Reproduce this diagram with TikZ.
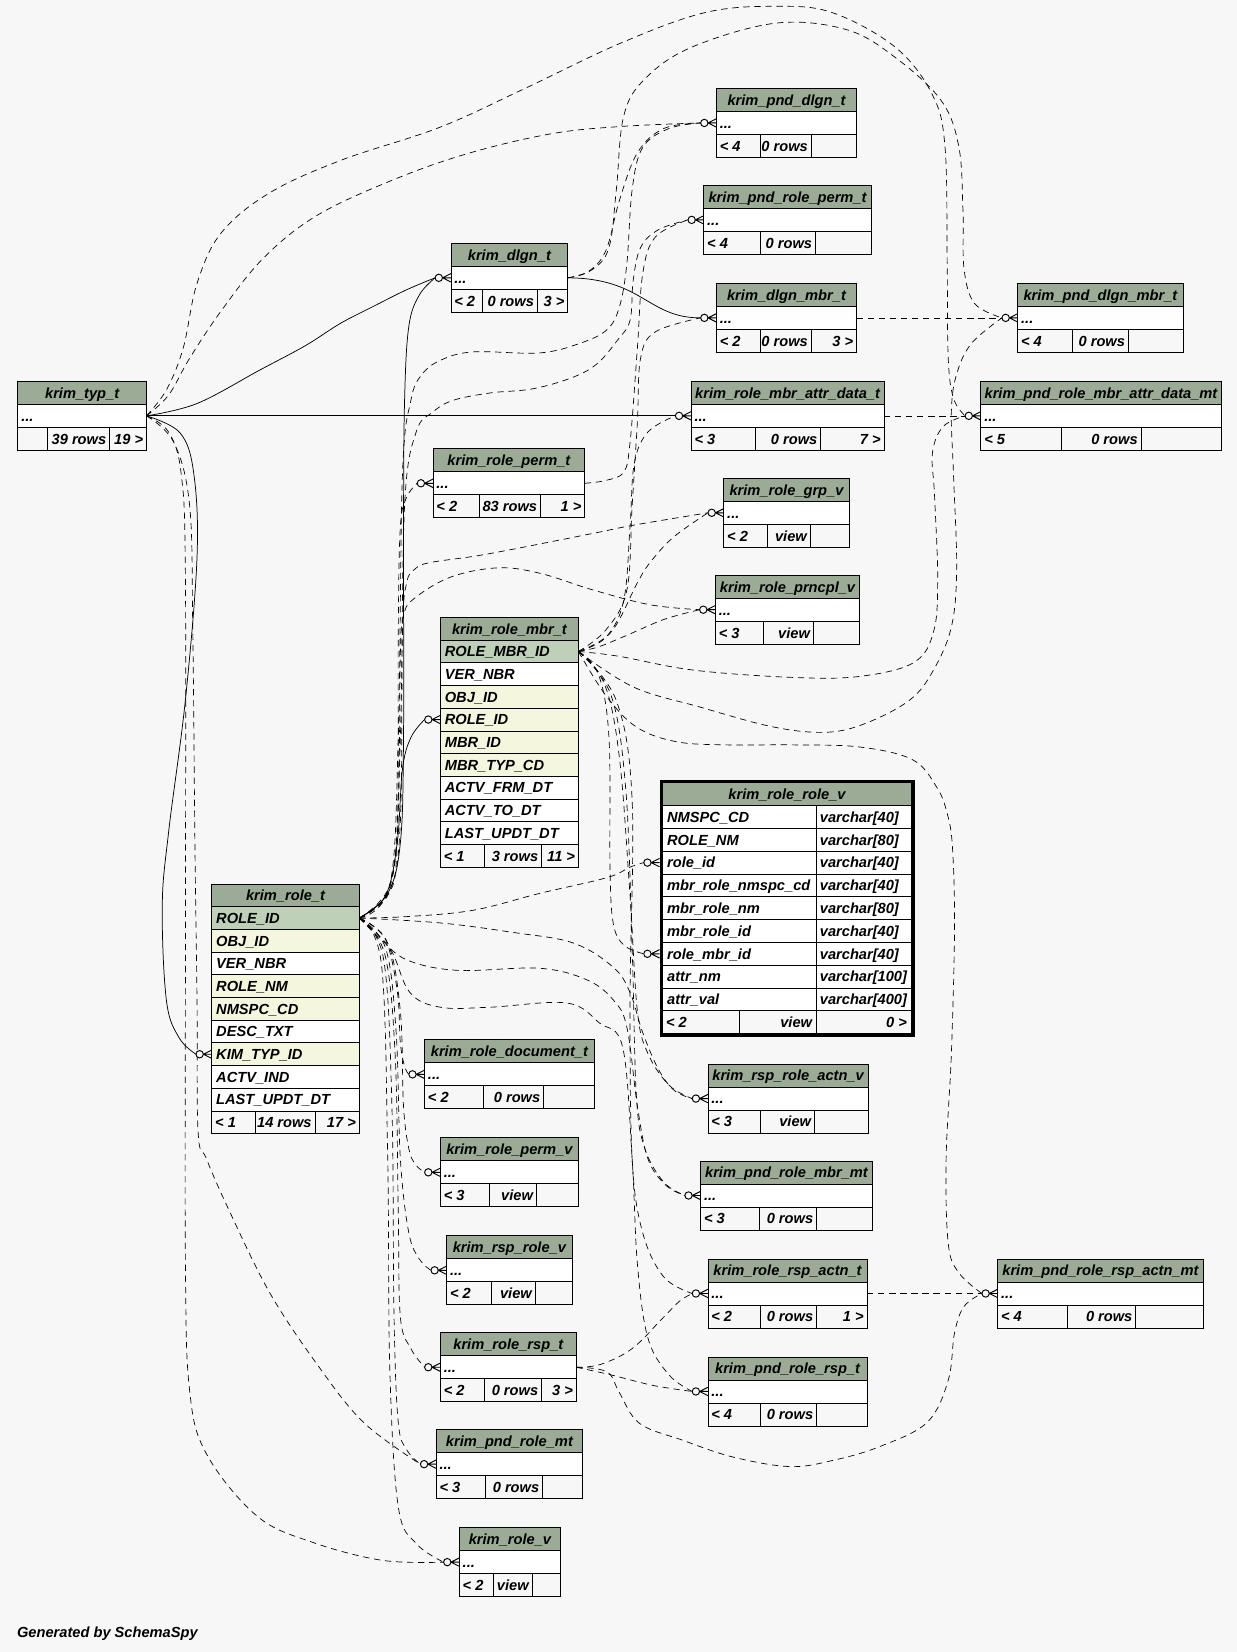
\documentclass[tikz,border=0pt]{standalone}
\usepackage{fontspec}
\setmainfont{Liberation Sans}
\definecolor{bgc}{HTML}{F7F7F7}
\definecolor{hdr}{HTML}{9BAB96}
\definecolor{pkc}{HTML}{BED1B8}
\definecolor{fkc}{HTML}{F4F6DE}
\pgfdeclarelayer{bglayer}
\pgfdeclarelayer{edgelayer}
\pgfsetlayers{bglayer,edgelayer,main}
% small table: name x1 x2 top d1 d2 title L M
\newcommand\stbl[9]{%
 \fill[hdr] (#2,#4) rectangle (#3,#4+21.8);
 \fill[white] (#2,#4+21.8) rectangle (#3,#4+43.6);
 \draw[tline] (#2,#4) rectangle (#3,#4+65.4)
   (#2,#4+21.8) -- (#3,#4+21.8) (#2,#4+43.6) -- (#3,#4+43.6)
   (#5,#4+43.6) -- (#5,#4+65.4) (#6,#4+43.6) -- (#6,#4+65.4);
 \node[txt,anchor=base] (#1-t) at ({(#2+#3)/2},#4+16) {#7};
 \node[txt,anchor=base west] (#1-d) at (#2+3,#4+37.8) {...};
 \node[txt,anchor=base west] (#1-l) at (#2+3,#4+59.6) {#8};
 \node[txt,anchor=base east] (#1-m) at (#6-3,#4+59.6) {#9};
 \coordinate (#1-in) at (#2,#4+32.7);
 \coordinate (#1-e) at (#2-15,#4+32.7);
 \coordinate (#1-out) at (#3,#4+32.7);
}
\newcommand\stblr[4]{\node[txt,anchor=base east] (#1-r) at (#2-3,#3+59.6) {#4};}
% big table row: name x1 x2 top fill text
\newcommand\brow[6]{%
 \draw[tline,fill=#5] (#2,#4) rectangle (#3,#4+21.55);
 \node[txt,anchor=base west] (#1) at (#2+4,#4+15.8) {#6};}
% role_role_v row: name top text1 text2
\newcommand\rrow[4]{%
 \draw[tline,fill=white] (629,#2) rectangle (775,#2+21.64) (775,#2) rectangle (865,#2+21.64);
 \node[txt,anchor=base west] (#1a) at (633,#2+15.8) {#3};
 \node[txt,anchor=base west] (#1b) at (778,#2+15.8) {#4};}
\newcommand\crow[1]{%
 \draw[footst] ([xshift=-8pt]#1) -- ([yshift=4pt]#1) ([xshift=-8pt]#1) -- (#1) ([xshift=-8pt]#1) -- ([yshift=-4pt]#1);
 \draw[footst,fill=bgc] ([xshift=-11.5pt]#1) circle[radius=3.5pt];}
\newcommand\edge[2]{\draw[#1] plot[smooth,tension=0.6] coordinates {#2};}
\begin{document}
\begin{tikzpicture}[x=1pt,y=-1pt,
  tline/.style={draw=black,line width=0.8pt},
  txt/.style={inner sep=0pt,font=\fontsize{13.9}{16}\selectfont\bfseries\itshape},
  fk/.style={line width=0.7pt},
  imp/.style={line width=0.65pt,dash pattern=on 6pt off 4.5pt},
  footst/.style={line width=0.9pt}]
\begin{pgfonlayer}{bglayer}
\fill[bgc] (0,0) rectangle (1174,1568);
\end{pgfonlayer}
\useasboundingbox (0,0) rectangle (1174,1568);

% ---------- small tables ----------
\stbl{pnddlgn}{680}{813}{84}{722}{770}{krim\_pnd\_dlgn\_t}{< 4}{0 rows}
\stbl{pndroleperm}{668}{827}{176}{722}{774}{krim\_pnd\_role\_perm\_t}{< 4}{0 rows}
\stbl{dlgn}{428}{539}{231}{458}{510}{krim\_dlgn\_t}{< 2}{0 rows}\stblr{dlgn}{539}{231}{3 >}
\stbl{dlgnmbr}{680}{813}{269}{722}{770}{krim\_dlgn\_mbr\_t}{< 2}{0 rows}\stblr{dlgnmbr}{813}{269}{3 >}
\stbl{pnddlgnmbr}{966}{1123}{269}{1018}{1071}{krim\_pnd\_dlgn\_mbr\_t}{< 4}{0 rows}
\stbl{typ}{17}{139}{362}{45}{104}{krim\_typ\_t}{}{39 rows}\stblr{typ}{139}{362}{19 >}
\stbl{attr}{656}{839}{362}{717}{779}{krim\_role\_mbr\_attr\_data\_t}{< 3}{0 rows}\stblr{attr}{839}{362}{7 >}
\stbl{pndattr}{931}{1159}{362}{1007}{1083}{krim\_pnd\_role\_mbr\_attr\_data\_mt}{< 5}{0 rows}
\stbl{roleperm}{411}{555}{426}{455}{513}{krim\_role\_perm\_t}{< 2}{83 rows}\stblr{roleperm}{555}{426}{1 >}
\stbl{rolegrp}{687}{806}{454}{728}{769}{krim\_role\_grp\_v}{< 2}{view}
\stbl{prncpl}{679}{816}{546}{725}{772}{krim\_role\_prncpl\_v}{< 3}{view}
\stbl{roledoc}{403}{564}{987}{459}{516}{krim\_role\_document\_t}{< 2}{0 rows}
\stbl{rsproleactn}{672}{824}{1010}{722}{773}{krim\_rsp\_role\_actn\_v}{< 3}{view}
\stbl{rolepermv}{418}{549}{1080}{465}{509}{krim\_role\_perm\_v}{< 3}{view}
\stbl{pndrolembr}{665}{828}{1102}{721}{775}{krim\_pnd\_role\_mbr\_mt}{< 3}{0 rows}
\stbl{rsprolev}{424}{543}{1173}{466}{508}{krim\_rsp\_role\_v}{< 2}{view}
\stbl{rolerspactn}{672}{823}{1195}{722}{775}{krim\_role\_rsp\_actn\_t}{< 2}{0 rows}\stblr{rolerspactn}{823}{1195}{1 >}
\stbl{pndrolerspactn}{947}{1142}{1195}{1013}{1078}{krim\_pnd\_role\_rsp\_actn\_mt}{< 4}{0 rows}
\stbl{rolersp}{418}{547}{1265}{460}{514}{krim\_role\_rsp\_t}{< 2}{0 rows}\stblr{rolersp}{547}{1265}{3 >}
\stbl{pndrolersp}{672}{823}{1288}{722}{775}{krim\_pnd\_role\_rsp\_t}{< 4}{0 rows}
\stbl{pndrole}{414}{553}{1357}{461}{515}{krim\_pnd\_role\_mt}{< 3}{0 rows}
\stbl{rolev}{436}{532}{1450}{468}{505}{krim\_role\_v}{< 2}{view}

% ---------- krim_role_mbr_t ----------
\def\tbtop{586}
\draw[tline,fill=hdr] (418,\tbtop) rectangle (549,\tbtop+21.55);
\node[txt,anchor=base] (rm-t) at (483.5,\tbtop+15.8) {krim\_role\_mbr\_t};
\brow{rm1}{418}{549}{\tbtop+1*21.55}{pkc}{ROLE\_MBR\_ID}
\brow{rm2}{418}{549}{\tbtop+2*21.55}{white}{VER\_NBR}
\brow{rm3}{418}{549}{\tbtop+3*21.55}{fkc}{OBJ\_ID}
\brow{rm4}{418}{549}{\tbtop+4*21.55}{fkc}{ROLE\_ID}
\brow{rm5}{418}{549}{\tbtop+5*21.55}{fkc}{MBR\_ID}
\brow{rm6}{418}{549}{\tbtop+6*21.55}{fkc}{MBR\_TYP\_CD}
\brow{rm7}{418}{549}{\tbtop+7*21.55}{white}{ACTV\_FRM\_DT}
\brow{rm8}{418}{549}{\tbtop+8*21.55}{white}{ACTV\_TO\_DT}
\brow{rm9}{418}{549}{\tbtop+9*21.55}{white}{LAST\_UPDT\_DT}
\draw[tline] (418,\tbtop+10*21.55) rectangle (549,\tbtop+11*21.55)
  (460,\tbtop+10*21.55) -- (460,\tbtop+11*21.55) (514,\tbtop+10*21.55) -- (514,\tbtop+11*21.55);
\node[txt,anchor=base west] (rm-l) at (421,\tbtop+10*21.55+15.8) {< 1};
\node[txt,anchor=base east] (rm-m) at (511,\tbtop+10*21.55+15.8) {3 rows};
\node[txt,anchor=base east] (rm-r) at (546,\tbtop+10*21.55+15.8) {11 >};
\coordinate (rolembrO) at (549,\tbtop+1.5*21.55);
\coordinate (rolembrR) at (418,\tbtop+4.5*21.55);
\coordinate (rolembrR-e) at (403,\tbtop+4.5*21.55);

% ---------- krim_role_t ----------
\def\tbtop{839}
\draw[tline,fill=hdr] (201,\tbtop) rectangle (341,\tbtop+21.55);
\node[txt,anchor=base] (ro-t) at (271,\tbtop+15.8) {krim\_role\_t};
\brow{ro1}{201}{341}{\tbtop+1*21.55}{pkc}{ROLE\_ID}
\brow{ro2}{201}{341}{\tbtop+2*21.55}{fkc}{OBJ\_ID}
\brow{ro3}{201}{341}{\tbtop+3*21.55}{white}{VER\_NBR}
\brow{ro4}{201}{341}{\tbtop+4*21.55}{fkc}{ROLE\_NM}
\brow{ro5}{201}{341}{\tbtop+5*21.55}{fkc}{NMSPC\_CD}
\brow{ro6}{201}{341}{\tbtop+6*21.55}{white}{DESC\_TXT}
\brow{ro7}{201}{341}{\tbtop+7*21.55}{fkc}{KIM\_TYP\_ID}
\brow{ro8}{201}{341}{\tbtop+8*21.55}{white}{ACTV\_IND}
\brow{ro9}{201}{341}{\tbtop+9*21.55}{white}{LAST\_UPDT\_DT}
\draw[tline] (201,\tbtop+10*21.55) rectangle (341,\tbtop+11*21.55)
  (242,\tbtop+10*21.55) -- (242,\tbtop+11*21.55) (299,\tbtop+10*21.55) -- (299,\tbtop+11*21.55);
\node[txt,anchor=base west] (ro-l) at (204,\tbtop+10*21.55+15.8) {< 1};
\node[txt,anchor=base east] (ro-m) at (296,\tbtop+10*21.55+15.8) {14 rows};
\node[txt,anchor=base east] (ro-r) at (338,\tbtop+10*21.55+15.8) {17 >};
\coordinate (roleO) at (341,\tbtop+1.5*21.55);
\coordinate (roleK) at (201,\tbtop+7.5*21.55);
\coordinate (roleK-e) at (186,\tbtop+7.5*21.55);

% ---------- krim_role_role_v ----------
\def\tbtop{743}
\draw[tline,fill=hdr] (629,\tbtop) rectangle (865,\tbtop+21.64);
\node[txt,anchor=base] (rr-t) at (747,\tbtop+15.8) {krim\_role\_role\_v};
\rrow{rr1}{\tbtop+1*21.64}{NMSPC\_CD}{varchar[40]}
\rrow{rr2}{\tbtop+2*21.64}{ROLE\_NM}{varchar[80]}
\rrow{rr3}{\tbtop+3*21.64}{role\_id}{varchar[40]}
\rrow{rr4}{\tbtop+4*21.64}{mbr\_role\_nmspc\_cd}{varchar[40]}
\rrow{rr5}{\tbtop+5*21.64}{mbr\_role\_nm}{varchar[80]}
\rrow{rr6}{\tbtop+6*21.64}{mbr\_role\_id}{varchar[40]}
\rrow{rr7}{\tbtop+7*21.64}{role\_mbr\_id}{varchar[40]}
\rrow{rr8}{\tbtop+8*21.64}{attr\_nm}{varchar[100]}
\rrow{rr9}{\tbtop+9*21.64}{attr\_val}{varchar[400]}
\draw[tline] (629,\tbtop+10*21.64) rectangle (865,\tbtop+11*21.64)
  (702,\tbtop+10*21.64) -- (702,\tbtop+11*21.64) (775,\tbtop+10*21.64) -- (775,\tbtop+11*21.64);
\node[txt,anchor=base west] (rr-l) at (632,\tbtop+10*21.64+15.8) {< 2};
\node[txt,anchor=base east] (rr-m) at (771,\tbtop+10*21.64+15.8) {view};
\node[txt,anchor=base east] (rr-r) at (861,\tbtop+10*21.64+15.8) {0 >};
\draw[line width=2.6pt] (627.3,741.3) rectangle (866.7,982.7);
\coordinate (rr) at (626,\tbtop+3.5*21.64);
\coordinate (rr-e) at (611,\tbtop+3.5*21.64);
\coordinate (rrm) at (626,\tbtop+7.5*21.64);
\coordinate (rrm-e) at (611,\tbtop+7.5*21.64);

\node[txt,anchor=base west] (gen) at (16,1554.6) {Generated by SchemaSpy};

% ---------- connectors ----------
\begin{pgfonlayer}{edgelayer}
% solid
\edge{fk}{(typ-out) (187,383) (247,351) (290,328) (323,307) (354,291) (386,275) (dlgn-e)}
\draw[fk] (typ-out) -- (attr-e);
\edge{fk}{(typ-out) (171,411) (184,450) (187,529) (176,664) (160,790) (154,860) (158,950) (170,985) (roleK-e)}
\draw[fk] (dlgn-out) .. controls (610,264) and (615,302) .. (dlgnmbr-e);
\edge{fk}{(roleO) (368,848) (380,800) (383,700) (383,500) (384,380) (388,310) (398,280) (dlgn-e)}
\edge{fk}{(roleO) (366,850) (377,800) (382,730) (390,700) (rolembrR-e)}
% implied
\edge{imp}{(typ-out) (160,375) (180,340) (210,295) (250,245) (300,205) (370,172) (443,146) (523,127) (590,120) (pnddlgn-e)}
\edge{imp}{(typ-out) (158,370) (174,330) (187,269) (210,221) (256,183) (324,152) (417,121) (496,85) (589,41) (669,12) (736,6) (790,12) (850,45) (885,90) (897,140) (899,250) (900,340) (905,378) (pndattr-e)}
\edge{imp}{(dlgn-out) (562,256) (578,235) (585,180) (592,110) (612,75) (656,45) (736,22) (803,28) (849,54) (893,95) (910,139) (914,200) (915,255) (925,288) (pnddlgnmbr-e)}
\edge{imp}{(dlgn-out) (558,258) (575,238) (588,190) (605,145) (630,122) (pnddlgn-e)}
\draw[imp] (dlgnmbr-out) -- (pnddlgnmbr-e);
\draw[imp] (attr-out) -- (pndattr-e);
\draw[imp] (rolerspactn-out) -- (pndrolerspactn-e);
% from krim_role_mbr_t
\edge{imp}{(rolembrO) (575,605) (592,570) (598,500) (602,440) (615,410) (attr-e)}
\edge{imp}{(rolembrO) (588,623) (658,636) (753,643) (816,642) (867,629) (886,600) (890,550) (887,470) (885,430) (895,405) (pndattr-e)}
\edge{imp}{(rolembrO) (601,652) (664,671) (734,690) (785,695) (823,686) (864,664) (886,636) (903,595) (908,540) (905,450) (903,390) (908,355) (922,326) (pnddlgnmbr-e)}
\edge{imp}{(rolembrO) (575,660) (604,690) (642,704) (690,707) (753,707) (816,709) (866,721) (889,747) (899,772) (904,804) (906,880) (903,1000) (898,1100) (900,1180) (910,1208) (pndrolerspactn-e)}
\edge{imp}{(rolembrO) (568,640) (578,700) (579,823) (582,876) (592,897) (rrm-e)}
\edge{imp}{(rolembrO) (574,650) (588,720) (598,850) (605,960) (615,1000) (635,1030) (rsproleactn-e)}
\edge{imp}{(rolembrO) (580,660) (594,750) (600,900) (604,1040) (612,1090) (630,1122) (pndrolembr-e)}
\edge{imp}{(rolembrO) (585,665) (600,760) (598,950) (600,1100) (610,1170) (630,1212) (rolerspactn-e)}
\edge{imp}{(rolembrO) (580,600) (605,553) (617,534) (639,510) (rolegrp-e)}
\edge{imp}{(rolembrO) (568,614) (595,603) (630,588) (prncpl-e)}
\edge{imp}{(rolembrO) (575,598) (595,560) (600,480) (605,400) (608,340) (622,315) (dlgnmbr-e)}
% from krim_role_t
\edge{imp}{(roleO) (368,850) (377,800) (378,600) (380,500) (386,472) (roleperm-e)}
\edge{imp}{(roleO) (370,845) (380,780) (382,600) (386,553) (394,540) (408,534) (456,527) (519,515) (569,505) (604,498) (rolegrp-e)}
\edge{imp}{(roleO) (370,840) (378,760) (380,620) (383,585) (392,569) (427,548) (472,539) (512,544) (563,560) (617,574) (prncpl-e)}
\edge{imp}{(roleO) (386,870) (449,864) (512,848) (576,833) (598,823) (rr-e)}
\edge{imp}{(roleO) (418,876) (487,885) (544,895) (582,918) (598,942) (610,980) (625,1015) (640,1035) (rsproleactn-e)}
\edge{imp}{(roleO) (360,890) (386,911) (434,921) (512,919) (557,930) (582,949) (595,975) (605,1050) (615,1100) (632,1125) (pndrolembr-e)}
\edge{imp}{(roleO) (370,900) (389,942) (418,956) (465,956) (538,952) (569,971) (591,994) (600,1100) (605,1200) (615,1270) (635,1305) (pndrolersp-e)}
\edge{imp}{(roleO) (365,890) (377,940) (380,990) (384,1012) (roledoc-e)}
\edge{imp}{(roleO) (368,895) (380,960) (383,1050) (388,1090) (394,1105) (rolepermv-e)}
\edge{imp}{(roleO) (366,900) (376,980) (380,1100) (388,1170) (398,1195) (rsprolev-e)}
\edge{imp}{(roleO) (365,905) (375,1000) (378,1150) (380,1250) (390,1280) (rolersp-e)}
\edge{imp}{(roleO) (364,910) (372,1050) (374,1250) (378,1350) (386,1376) (pndrole-e)}
\edge{imp}{(roleO) (362,915) (368,1100) (370,1300) (378,1430) (395,1465) (rolev-e)}
\edge{imp}{(roleO) (370,840) (378,700) (382,450) (390,380) (400,356) (418,342) (449,334) (512,335) (550,326) (576,313) (588,291) (595,250) (600,180) (610,140) (635,122) (pnddlgn-e)}
\edge{imp}{(roleO) (372,835) (380,700) (384,480) (395,410) (411,391) (430,380) (465,373) (506,369) (544,358) (567,345) (586,323) (598,304) (601,266) (608,235) (625,218) (pndroleperm-e)}
% from krim_role_perm_t
\edge{imp}{(roleperm-out) (575,456) (592,448) (598,420) (605,330) (610,260) (622,225) (pndroleperm-e)}
% from krim_typ_t downwards
\edge{imp}{(typ-out) (165,420) (180,480) (183,600) (185,800) (187,950) (188,1074) (196,1100) (218,1150) (256,1227) (301,1295) (345,1350) (pndrole-e)}
\edge{imp}{(typ-out) (160,410) (172,450) (176,550) (176,900) (176,1200) (180,1320) (196,1380) (244,1439) (297,1464) (363,1481) (rolev-e)}
% from krim_role_rsp_t
\edge{imp}{(rolersp-out) (570,1295) (600,1280) (630,1250) (645,1235) (rolerspactn-e)}
\edge{imp}{(rolersp-out) (580,1305) (620,1315) (pndrolersp-e)}
\edge{imp}{(rolersp-out) (576,1302) (588,1322) (607,1351) (648,1367) (696,1383) (750,1392) (791,1386) (835,1373) (880,1350) (900,1310) (906,1265) (915,1240) (pndrolerspactn-e)}
\end{pgfonlayer}

% ---------- crow's feet ----------
\crow{pnddlgn-in}\crow{pndroleperm-in}\crow{dlgn-in}\crow{dlgnmbr-in}
\crow{pnddlgnmbr-in}\crow{attr-in}\crow{pndattr-in}\crow{roleperm-in}
\crow{rolegrp-in}\crow{prncpl-in}\crow{rolembrR}\crow{rr}\crow{rrm}\crow{roleK}
\crow{roledoc-in}\crow{rsproleactn-in}\crow{rolepermv-in}\crow{pndrolembr-in}
\crow{rsprolev-in}\crow{rolerspactn-in}\crow{pndrolerspactn-in}\crow{rolersp-in}
\crow{pndrolersp-in}\crow{pndrole-in}\crow{rolev-in}
\end{tikzpicture}
\end{document}
